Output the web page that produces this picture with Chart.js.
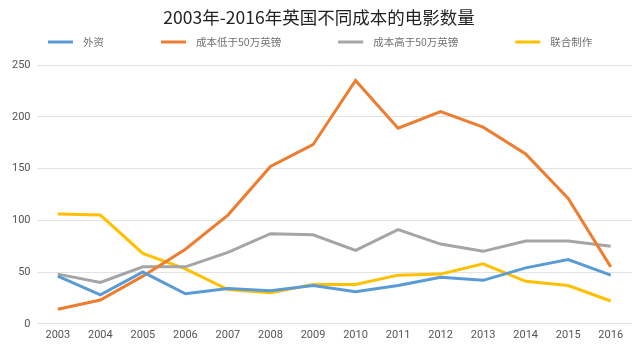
<!DOCTYPE html>
<html>
<head>
<meta charset="utf-8">
<script src="https://cdn.jsdelivr.net/npm/chart.js@4"></script>
<style>
  body { margin: 0; background: #fff; }
  #box { width: 640px; height: 347px; }
</style>
</head>
<body>
<div id="box"><canvas id="grafico"></canvas></div>
<script>
const anos = ['2003', '2004', '2005', '2006', '2007', '2008', '2009', '2010', '2011', '2012', '2013', '2014', '2015', '2016']

const waizi = [46, 28, 50, 29, 34, 32, 37, 31, 37, 45, 42, 54, 62, 47]
const diYu50 = [14, 23, 46, 72, 105, 152, 173, 235, 189, 205, 190, 164, 121, 55]
const gaoYu50 = [48, 40, 55, 55, 69, 87, 86, 71, 91, 77, 70, 80, 80, 75]
const lianhe = [106, 105, 68, 53, 33, 30, 38, 38, 47, 48, 58, 41, 37, 22]

const fonte = "Roboto, 'Noto Sans CJK SC', sans-serif"
const fonteCJK = "'Noto Sans CJK SC', sans-serif"

function serie(label, data, cor) {
  return {
    label: label,
    data: data,
    borderColor: cor,
    backgroundColor: cor,
    borderWidth: 3,
    pointRadius: 0,
    tension: 0,
    fill: false
  }
}

// legenda desenhada a mao, para ter o espacamento largo da original
const legendaManual = {
  id: 'legendaManual',
  afterDraw(chart, args, opts) {
    const ctx = chart.ctx
    ctx.save()
    ctx.font = '10.5px ' + fonteCJK
    ctx.textBaseline = 'middle'
    let x = opts.inicio
    chart.data.datasets.forEach((ds) => {
      ctx.strokeStyle = ds.borderColor
      ctx.lineWidth = 3
      ctx.beginPath()
      ctx.moveTo(x, opts.y)
      ctx.lineTo(x + 25, opts.y)
      ctx.stroke()
      ctx.fillStyle = '#707070'
      ctx.fillText(ds.label, x + 35, opts.y)
      x += 35 + ctx.measureText(ds.label).width + opts.espaco
    })
    ctx.restore()
  }
}

new Chart(document.getElementById('grafico'), {
  type: 'line',
  data: {
    labels: anos,
    datasets: [
      serie('外资', waizi, '#5b9bd5'),
      serie('成本低于50万英镑', diYu50, '#ed7d31'),
      serie('成本高于50万英镑', gaoYu50, '#a5a5a5'),
      serie('联合制作', lianhe, '#ffc000')
    ]
  },
  options: {
    responsive: true,
    maintainAspectRatio: false,
    animation: false,
    layout: { padding: { left: 6, right: 8, bottom: 0, top: 0 } },
    plugins: {
      title: {
        display: true,
        text: '2003年-2016年英国不同成本的电影数量',
        color: '#222',
        font: { family: fonteCJK, size: 17.5, weight: 'normal' },
        padding: { top: 7, bottom: 37 }
      },
      legend: { display: false },
      legendaManual: { inicio: 48, y: 42, espaco: 57 },
      tooltip: { enabled: false }
    },
    scales: {
      x: {
        offset: true,
        grid: { display: false, drawTicks: false },
        border: { display: false },
        ticks: { color: '#555', padding: 5, font: { family: fonte, size: 11 } }
      },
      y: {
        min: 0,
        max: 250,
        ticks: { stepSize: 50, color: '#555', padding: 6, font: { family: fonte, size: 11 } },
        grid: { color: '#e3e3e3', drawTicks: false },
        border: { display: false }
      }
    }
  },
  plugins: [legendaManual]
})
</script>
</body>
</html>
